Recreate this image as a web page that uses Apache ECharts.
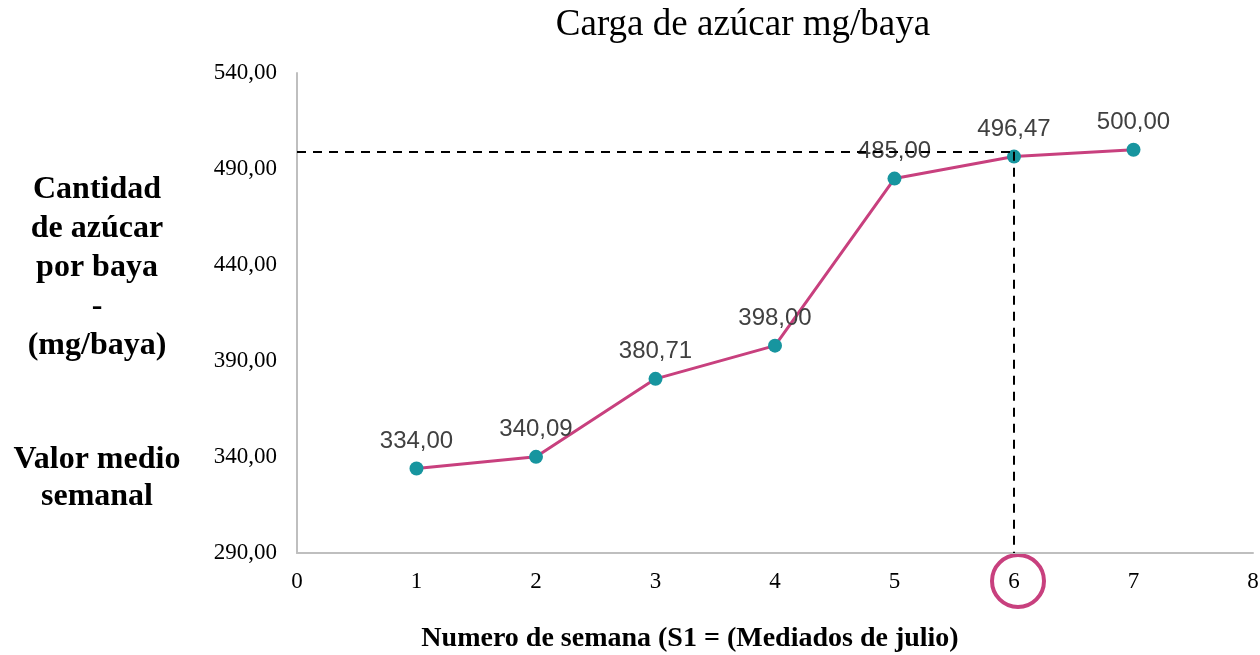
<!DOCTYPE html>
<html>
<head>
<meta charset="utf-8">
<script src="https://cdn.jsdelivr.net/npm/echarts@6/dist/echarts.min.js"></script>
<style>
  html, body { margin: 0; padding: 0; background: #fff; }
  #chart { width: 1260px; height: 655px; }
</style>
</head>
<body>
<div id="chart"></div>
<script>
// semanas y valor medio (mg/baya)
const weeks = [1, 2, 3, 4, 5, 6, 7];
const sugar = [334.00, 340.09, 380.71, 398.00, 485.00, 496.47, 500.00];
// linea guia punteada (semana 6)
const guideWeek = 6;
const guideValue = 499;

const chart = echarts.init(document.getElementById('chart'));
const serif = '"Liberation Serif", "Times New Roman", serif';
const fmt = v => v.toFixed(2).replace('.', ',');

const option = {
    animation: false,
    title: {
        text: 'Carga de azúcar mg/baya',
        left: 738,
        textAlign: 'center',
        top: 2,
        textStyle: { fontFamily: serif, fontSize: 37, fontWeight: 'normal', color: '#000' }
    },
    grid: { left: 297, right: 7, top: 73, bottom: 102, outerBoundsMode: 'none', containLabel: false },
    xAxis: {
        type: 'value',
        min: 0,
        max: 8,
        interval: 1,
        axisLine: { lineStyle: { color: '#bfbfbf', width: 2 } },
        axisTick: { show: false },
        splitLine: { show: false },
        axisLabel: { fontFamily: serif, fontSize: 23, color: '#000', margin: 17 },
        name: 'Numero de semana (S1 = (Mediados de julio)',
        nameLocation: 'middle',
        nameGap: 72,
        nameTextStyle: { fontFamily: serif, fontSize: 28, fontWeight: 'bold', color: '#000', padding: [0, 0, 0, -170] }
    },
    yAxis: {
        type: 'value',
        min: 290,
        max: 540,
        interval: 50,
        axisLine: { show: true, lineStyle: { color: '#bfbfbf', width: 2 } },
        axisTick: { show: false },
        splitLine: { show: false },
        axisLabel: { fontFamily: serif, fontSize: 23, color: '#000', margin: 20, formatter: fmt }
    },
    series: [{
        type: 'line',
        data: weeks.map((w, i) => [w, sugar[i]]),
        symbol: 'circle',
        symbolSize: 14,
        lineStyle: { color: '#c8407e', width: 3 },
        itemStyle: { color: '#17959f' },
        label: {
            show: true,
            position: 'top',
            distance: 8,
            fontFamily: '"Liberation Sans", Arial, sans-serif',
            fontSize: 24,
            color: '#404040',
            formatter: p => fmt(p.value[1])
        },
        z: 3,
        markLine: {
            silent: true,
            symbol: 'none',
            label: { show: false },
            lineStyle: { color: '#000', type: [9, 7], width: 2 },
            data: [
                [{ coord: [0, guideValue] }, { coord: [guideWeek, guideValue] }],
                [{ coord: [guideWeek, guideValue] }, { coord: [guideWeek, 290] }]
            ]
        }
    }]
};
chart.setOption(option);

// titulo del eje Y y circulo alrededor de la semana 6
const px = chart.convertToPixel({ gridIndex: 0 }, [guideWeek, 290]);
chart.setOption({
    graphic: [
        {
            type: 'text',
            style: {
                text: 'Cantidad\nde azúcar\npor baya\n-\n(mg/baya)',
                x: 97, y: 170,
                textAlign: 'center',
                font: 'bold 32px ' + serif,
                lineHeight: 39,
                fill: '#000'
            }
        },
        {
            type: 'text',
            style: {
                text: 'Valor medio\nsemanal',
                x: 97, y: 441,
                textAlign: 'center',
                font: 'bold 32px ' + serif,
                lineHeight: 37,
                fill: '#000'
            }
        },
        {
            type: 'circle',
            shape: { cx: px[0] + 4, cy: px[1] + 28, r: 26 },
            style: { fill: 'none', stroke: '#c8407e', lineWidth: 4 }
        }
    ]
});
</script>
</body>
</html>
